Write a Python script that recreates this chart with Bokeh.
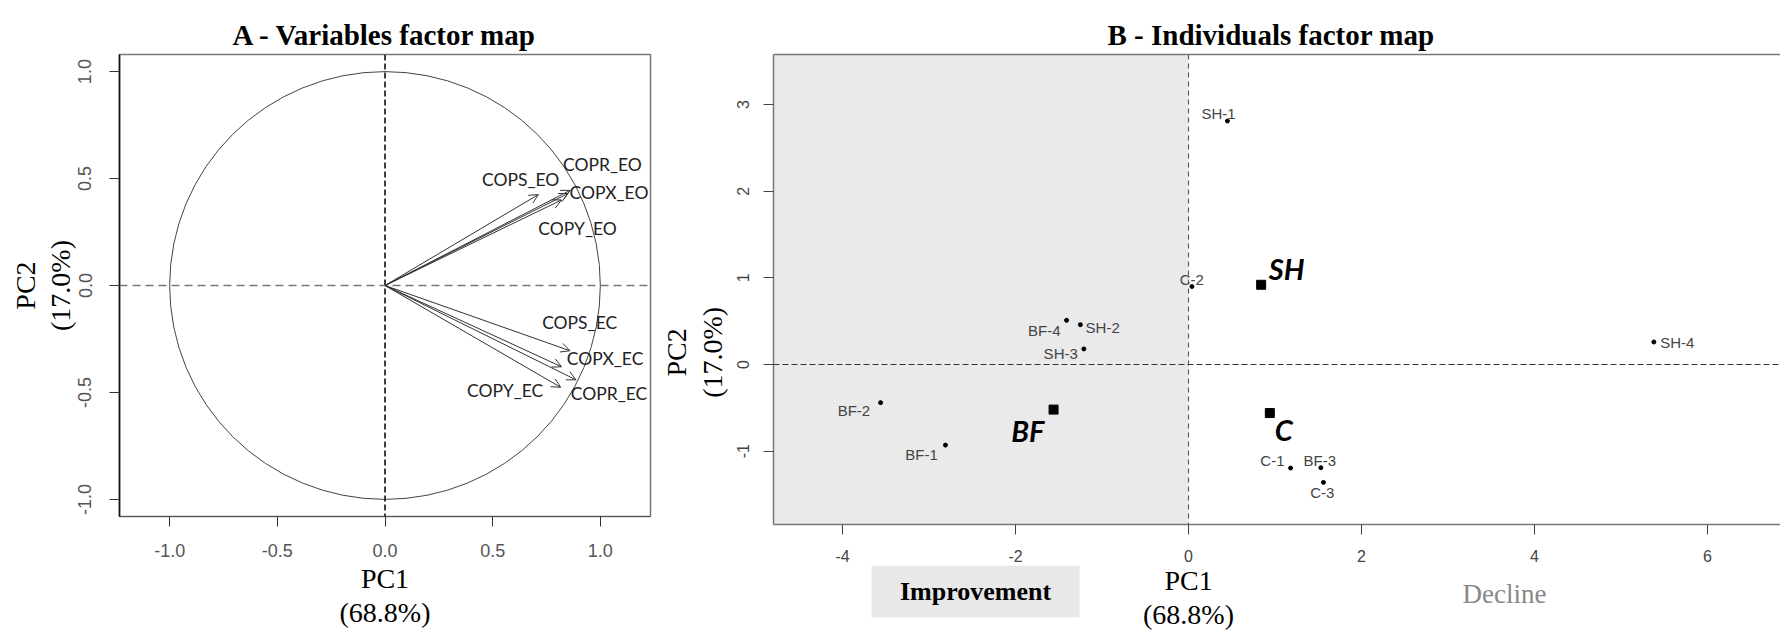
import math
from bokeh.plotting import figure
from bokeh.layouts import row, column
from bokeh.models import (Arrow, OpenHead, ColumnDataSource, BoxAnnotation,
                          Span, FixedTicker, LinearAxis, Range1d)
from bokeh.embed import file_html
from bokeh.resources import INLINE
from bokeh.core.properties import value

# ---------------- Panel A : variables factor map ----------------
var_names = ["COPS_EO", "COPR_EO", "COPX_EO", "COPY_EO",
             "COPS_EC", "COPX_EC", "COPR_EC", "COPY_EC"]
var_pc1 = [0.712, 0.860, 0.850, 0.820, 0.859, 0.820, 0.887, 0.816]
var_pc2 = [0.425, 0.445, 0.430, 0.400, -0.305, -0.380, -0.441, -0.476]
var_label_pc1 = [0.630, 1.010, 1.040, 0.894, 0.904, 1.022, 1.040, 0.558]
var_label_pc2 = [0.494, 0.565, 0.437, 0.268, -0.171, -0.341, -0.503, -0.490]
circle_radius = 1.0
a_ticks = [-1.0, -0.5, 0.0, 0.5, 1.0]
a_tick_labels = ["-1.0", "-0.5", "0.0", "0.5", "1.0"]

# ---------------- Panel B : individuals factor map ----------------
ind_names = ["SH-1", "C-2", "BF-4", "SH-2", "SH-3", "BF-2", "BF-1", "C-1", "BF-3", "C-3", "SH-4"]
ind_pc1 = [0.45, 0.04, -1.41, -1.25, -1.21, -3.56, -2.81, 1.18, 1.53, 1.56, 5.38]
ind_pc2 = [2.81, 0.90, 0.51, 0.46, 0.18, -0.44, -0.93, -1.195, -1.19, -1.36, 0.26]
ind_label_pc1 = [0.347, 0.038, -1.48, -1.19, -1.28, -3.68, -2.898, 1.11, 1.518, 1.546, 5.453]
ind_label_pc2 = [2.896, 0.977, 0.392, 0.423, 0.130, -0.528, -1.038, -1.108, -1.108, -1.473, 0.257]
ind_label_align = ["center", "center", "right", "left", "right", "right", "right", "right",
                   "center", "center", "left"]

group_names = ["BF", "SH", "C"]
group_pc1 = [-1.56, 0.84, 0.94]
group_pc2 = [-0.52, 0.92, -0.56]
group_label_pc1 = [-1.665, 0.928, 0.998]
group_label_pc2 = [-0.762, 1.104, -0.753]
group_label_align = ["right", "left", "left"]

b_xticks = [-4, -2, 0, 2, 4, 6]
b_xtick_labels = ["-4", "-2", "0", "2", "4", "6"]
b_yticks = [-1, 0, 1, 2, 3]
b_ytick_labels = ["-1", "0", "1", "2", "3"]

# zones under panel B (PC1 extent of the "Improvement" zone = left of PC1 = 0)
improvement_box_pc1 = [-3.665, -1.260]
improvement_text_pc1 = -2.462
decline_text_pc1 = 3.653
b_axis_title_pc2 = 0.081

SERIF = "Liberation Serif"
SANS = "Liberation Sans"


def style_axes(p, xt, xl, yt, yl, size, color, xstand, ystand):
    p.xaxis.ticker = FixedTicker(ticks=xt)
    p.yaxis.ticker = FixedTicker(ticks=yt)
    p.xaxis.major_label_overrides = {float(t): s for t, s in zip(xt, xl)}
    p.yaxis.major_label_overrides = {float(t): s for t, s in zip(yt, yl)}
    for ax in (p.xaxis, p.yaxis):
        ax.major_tick_out = 10
        ax.major_tick_in = 0
        ax.minor_tick_out = 0
        ax.minor_tick_in = 0
        ax.major_label_text_font = SANS
        ax.major_label_text_font_size = size
        ax.major_label_text_color = color
        ax.major_label_text_line_height = 1.0
        ax.axis_label_text_font = SERIF
        ax.axis_label_text_font_style = "normal"
        ax.axis_label_text_font_size = "28px"
        ax.axis_label_text_color = "black"
        ax.axis_label_text_line_height = 1.1
    p.xaxis.major_label_standoff = xstand
    p.yaxis.major_label_standoff = ystand
    p.yaxis.major_label_orientation = "vertical"
    p.xgrid.visible = False
    p.ygrid.visible = False


def style_title(p, text, align, offset):
    p.title.text = text
    p.title.align = align
    p.title.offset = offset
    p.title.text_font = SERIF
    p.title.text_font_style = "bold"
    p.title.text_font_size = "29px"
    p.title.text_color = "black"
    p.title.standoff = 8


def blank(width, height, x_range, y_range, left=0, right=0, top=0, bottom=0):
    f = figure(width=width, height=height, x_range=x_range, y_range=y_range,
               output_backend="svg", toolbar_location=None, title=None,
               x_axis_location=None, y_axis_location=None,
               min_border_left=left, min_border_right=right, min_border_top=top, min_border_bottom=bottom)
    f.outline_line_color = None
    f.grid.visible = False
    return f


# ================= Figure A =================
pa = figure(width=655, height=630, x_range=Range1d(-1.233, 1.233), y_range=Range1d(-1.08, 1.08),
            output_backend="svg", toolbar_location=None,
            min_border_left=119, min_border_right=5, min_border_top=53, min_border_bottom=110)
style_axes(pa, a_ticks, a_tick_labels, a_ticks, a_tick_labels, "18px", "#555", 17, 18)
style_title(pa, "A - Variables factor map", "center", 0)
pa.xaxis.axis_label = "PC1\n(68.8%)"
pa.yaxis.axis_label = "PC2\n(17.0%)"
pa.xaxis.axis_label_standoff = 3
pa.yaxis.axis_label_standoff = 0
pa.yaxis.axis_line_color = "#111"
pa.yaxis.axis_line_width = 1.6
pa.yaxis.major_tick_line_color = "#333"
pa.xaxis.axis_line_color = "#555"
pa.xaxis.major_tick_line_color = "#333"
pa.outline_line_color = "#777"
pa.outline_line_width = 1.5
pa.background_fill_color = "white"

pa.add_layout(Span(location=0, dimension="height", line_color="#111", line_width=1.6, line_dash="6 3"))
pa.add_layout(Span(location=0, dimension="width", line_color="#777", line_width=1.3, line_dash="8 5"))

pa.ellipse(x=[0], y=[0], width=[2 * circle_radius], height=[2 * circle_radius],
           fill_color=None, line_color="#444", line_width=1)

arrow_src = ColumnDataSource(dict(x0=[0] * len(var_pc1), y0=[0] * len(var_pc2), x1=var_pc1, y1=var_pc2))
pa.add_layout(Arrow(source=arrow_src, x_start="x0", y_start="y0", x_end="x1", y_end="y1",
                    line_color="#333", line_width=1,
                    end=OpenHead(size=9, line_color="#333", line_width=1)))

pa.text(x=var_label_pc1, y=var_label_pc2, text=var_names, text_align="center", text_baseline="middle",
        text_font=value("Lato"), text_font_size="17.5px", text_color="#222")

# ================= Figure B =================
bx = Range1d(-4.798, 6.844)
by = Range1d(-1.846, 3.577)
pb = figure(width=1051, height=565, x_range=bx, y_range=by,
            output_backend="svg", toolbar_location=None,
            min_border_left=44, min_border_right=0, min_border_top=54, min_border_bottom=41)
style_axes(pb, b_xticks, b_xtick_labels, b_yticks, b_ytick_labels, "16px", "#444", 15, 14)
style_title(pb, "B - Individuals factor map", "left", 334)
for ax in (pb.xaxis, pb.yaxis):
    ax.axis_line_color = "#777"
    ax.axis_line_width = 1.5
    ax.major_tick_line_color = "#444"
pb.outline_line_color = None
top_axis = LinearAxis(ticker=FixedTicker(ticks=[]), major_label_text_font_size="0px",
                      axis_line_color="#777", axis_line_width=1.5, major_tick_out=0, minor_tick_out=0)
pb.add_layout(top_axis, "above")

pb.add_layout(BoxAnnotation(right=0, fill_color="#EAEAEA", fill_alpha=1.0, line_color=None, level="underlay"))
pb.add_layout(Span(location=0, dimension="height", line_color="#555", line_width=1.1, line_dash="5 4"))
pb.add_layout(Span(location=0, dimension="width", line_color="#333", line_width=1.2, line_dash="6 3"))

pb.scatter(x=ind_pc1, y=ind_pc2, size=4, color="black")
pb.scatter(x=group_pc1, y=group_pc2, marker="square", size=9, color="black")

for align in ("left", "center", "right"):
    idx = [i for i, a in enumerate(ind_label_align) if a == align]
    if idx:
        pb.text(x=[ind_label_pc1[i] for i in idx], y=[ind_label_pc2[i] for i in idx],
                text=[ind_names[i] for i in idx], text_align=align, text_baseline="middle",
                text_font=value(SANS), text_font_size="15px", text_color="#444")
    gidx = [i for i, a in enumerate(group_label_align) if a == align]
    if gidx:
        pb.text(x=[group_label_pc1[i] for i in gidx], y=[group_label_pc2[i] for i in gidx],
                text=[group_names[i] for i in gidx], text_align=align, text_baseline="middle",
                text_font=value("Lato"), text_font_style="bold italic", text_font_size="29px",
                text_color="black")

# ---- strip under panel B (shares the PC1 scale; vertical unit = pixels from strip bottom) ----
bs = blank(1051, 65, bx, Range1d(0, 65), left=44, right=0)
bs.quad(left=[improvement_box_pc1[0]], right=[improvement_box_pc1[1]], bottom=[13], top=[65],
        fill_color="#E8E8E8", line_color=None)
bs.text(x=[improvement_text_pc1], y=[39], text=["Improvement"], text_align="center",
        text_baseline="middle", text_font=value(SERIF), text_font_style="bold",
        text_font_size="26px", text_color="black")
bs.text(x=[decline_text_pc1], y=[37], text=["Decline"], text_align="center",
        text_baseline="middle", text_font=value(SERIF), text_font_size="27px", text_color="#888")
bs.text(x=[0, 0], y=[50, 16], text=["PC1", "(68.8%)"], text_align="center",
        text_baseline="middle", text_font=value(SERIF), text_font_size="28px", text_color="black")

# ---- strip left of panel B for its PC2 axis title (shares the PC2 scale) ----
ls = blank(74, 630, Range1d(0, 74), by, top=54, bottom=106)
ls.text(x=[21, 57], y=[b_axis_title_pc2, b_axis_title_pc2], text=["PC2", "(17.0%)"], angle=math.pi / 2,
        text_align="center", text_baseline="middle", text_font=value(SERIF),
        text_font_size="28px", text_color="black")

layout = row(pa, ls, column(pb, bs))
open("out.html", "w").write(file_html(layout, INLINE))
